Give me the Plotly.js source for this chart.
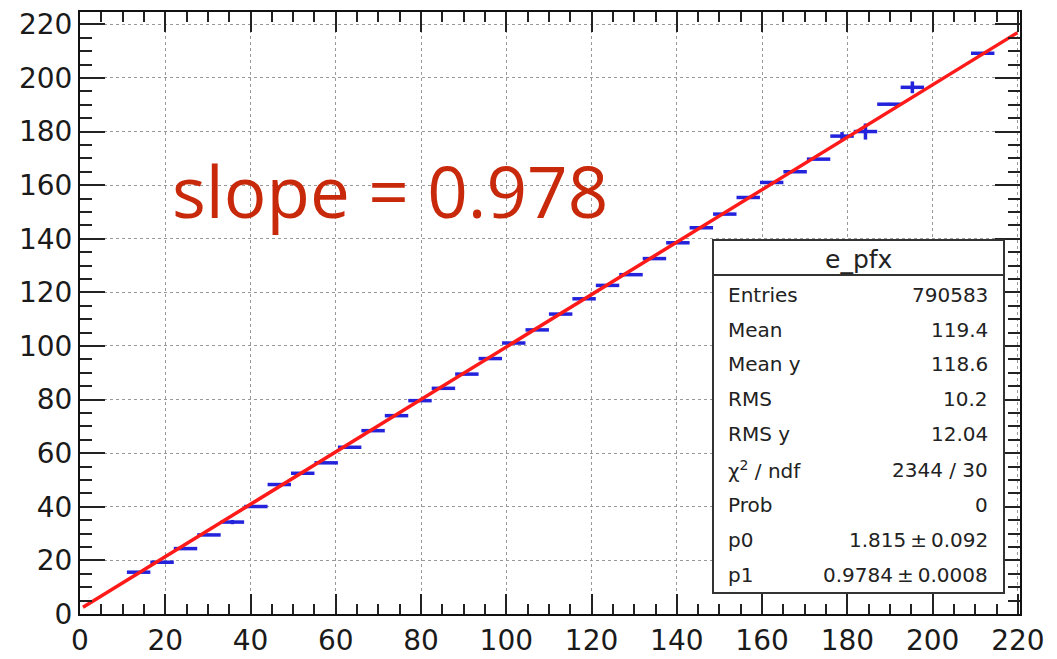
<!DOCTYPE html>
<html><head><meta charset="utf-8">
<script src="https://cdn.plot.ly/plotly-3.0.1.min.js"></script>
<style>html,body{margin:0;padding:0;background:#fff;}#chart{width:1057px;height:659px;}</style>
</head><body><div id="chart"></div>
<script>
// Profile bins (centres) and mean values
const binCenters = [13.75, 19.25, 24.75, 30.25, 35.75, 41.25, 46.75, 52.25, 57.75, 63.25,
  68.75, 74.25, 79.75, 85.25, 90.75, 96.25, 101.75, 107.25, 112.75, 118.25,
  123.75, 129.25, 134.75, 140.25, 145.75, 151.25, 156.75, 162.25, 167.75, 173.25,
  178.75, 184.25, 189.75, 195.25, 211.75];
const binValues = [15.6, 19.3, 24.4, 29.5, 34.3, 40.1, 48.3, 52.5, 56.4, 62.2,
  68.4, 74.0, 79.6, 84.2, 89.5, 95.3, 101.1, 106.0, 111.9, 117.6,
  122.6, 126.6, 132.6, 138.5, 144.1, 149.2, 155.4, 161.0, 165.0, 169.7,
  178.3, 180.0, 190.2, 196.5, 209.2];
const binErrors = [0.4, 0.4, 0.4, 0.4, 0.8, 0.4, 0.4, 0.4, 0.4, 0.4,
  0.4, 0.4, 0.4, 0.4, 0.4, 0.4, 0.4, 0.4, 0.4, 0.4,
  0.4, 0.4, 0.4, 0.4, 0.4, 0.4, 0.4, 0.4, 0.4, 0.4,
  1.5, 3.0, 0.5, 2.2, 0.5];
const binHalfWidth = 2.75;

// Fitted straight line end points (as drawn)
const fitX = [0.7, 219.9];
const fitY = [2.5, 216.9];

// Statistics box
const statsTitle = "e_pfx";
const statsLabels = ["Entries", "Mean", "Mean y", "RMS", "RMS y", "χ<sup>2</sup> / ndf", "Prob", "p0", "p1"];
const statsValues = ["790583", "119.4", "118.6", "10.2", "12.04", "2344 / 30", "0", "1.815\u2009±\u20090.092", "0.9784\u2009±\u20090.0008"];
const slopeText = "slope = 0.978";

const xTicks = [0, 20, 40, 60, 80, 100, 120, 140, 160, 180, 200, 220];
const yTicks = [0, 20, 40, 60, 80, 100, 120, 140, 160, 180, 200, 220];

// pixel -> paper helpers for the plot area
const PL = 80, PR = 1020, PT = 12, PB = 614;
const fx = p => (p - PL) / (PR - PL);
const fy = p => (PB - p) / (PB - PT);

const blue = '#2323dc';
const traces = [
  {
    x: binCenters, y: binValues, type: 'scatter', mode: 'markers',
    marker: {size: 2, color: 'rgba(0,0,0,0)'},
    error_x: {type: 'data', array: binCenters.map(() => binHalfWidth), color: blue, thickness: 3.5, width: 0},
    error_y: {type: 'data', array: binErrors, color: blue, thickness: 3.5, width: 0},
    hoverinfo: 'skip', showlegend: false
  },
  {
    x: fitX, y: fitY, type: 'scatter', mode: 'lines',
    line: {color: '#ff1a1a', width: 3.5}, hoverinfo: 'skip', showlegend: false
  }
];

const tickFont = {family: 'DejaVu Sans', size: 28, color: '#1a1a1a'};
const axisCommon = {
  showline: true, linecolor: '#111', linewidth: 2, mirror: 'ticks',
  ticks: 'inside', tickcolor: '#222', tickwidth: 2,
  showgrid: true, gridcolor: '#999999', griddash: 'dot', gridwidth: 1,
  zeroline: false, tickfont: tickFont, tickmode: 'array', fixedrange: true
};

const shapes = [
  {type: 'rect', xref: 'paper', yref: 'paper', x0: fx(713), x1: fx(1004), y0: fy(593), y1: fy(240),
   line: {color: '#333', width: 2}, fillcolor: '#fff', layer: 'above'},
  {type: 'line', xref: 'paper', yref: 'paper', x0: fx(713), x1: fx(1004), y0: fy(275), y1: fy(275),
   line: {color: '#333', width: 2}, layer: 'above'}
];

const statFont = {family: 'DejaVu Sans', size: 20, color: '#222'};
const rowY = [295, 330, 364, 399, 434, 470, 505, 540, 575];
const annotations = [
  {xref: 'paper', yref: 'paper', x: fx(858), y: fy(259), text: statsTitle, showarrow: false,
   xanchor: 'center', yanchor: 'middle', font: {family: 'DejaVu Sans', size: 25, color: '#222'}},
  {xref: 'paper', yref: 'paper', x: fx(170), y: fy(190), text: slopeText, showarrow: false,
   xanchor: 'left', yanchor: 'middle', font: {family: 'Open Sans', size: 71, color: '#c9290b'}}
];
statsLabels.forEach((t, i) => {
  annotations.push({xref: 'paper', yref: 'paper', x: fx(726), y: fy(rowY[i]), text: t, showarrow: false,
    xanchor: 'left', yanchor: 'middle', font: statFont});
  annotations.push({xref: 'paper', yref: 'paper', x: fx(990), y: fy(rowY[i]), text: statsValues[i], showarrow: false,
    xanchor: 'right', yanchor: 'middle', font: statFont});
});

const layout = {
  width: 1057, height: 659,
  margin: {l: PL, r: 1057 - PR, t: PT, b: 659 - PB, pad: 0},
  paper_bgcolor: '#fff', plot_bgcolor: '#fff',
  xaxis: Object.assign({}, axisCommon, {
    range: [0, 220.5], tickvals: xTicks, ticktext: xTicks.map(String), ticklen: 20,
    minor: {dtick: 5, tick0: 0, ticklen: 10, ticks: 'inside', tickcolor: '#222', tickwidth: 2, showgrid: false}
  }),
  yaxis: Object.assign({}, axisCommon, {
    range: [0, 224.6], tickvals: yTicks, ticktext: yTicks.map(String), ticklen: 25,
    minor: {dtick: 5, tick0: 0, ticklen: 12, ticks: 'inside', tickcolor: '#222', tickwidth: 2, showgrid: false}
  }),
  shapes: shapes,
  annotations: annotations,
  showlegend: false
};

Plotly.newPlot('chart', traces, layout, {displayModeBar: false, staticPlot: true});
</script>
</body></html>
